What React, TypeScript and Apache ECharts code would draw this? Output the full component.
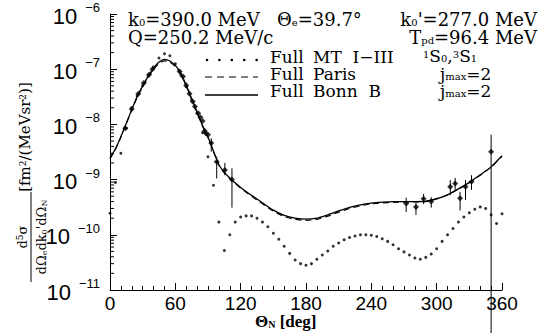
import React, { useEffect, useRef } from "react";
import * as echarts from "echarts";

// ---------- data ----------
const thetaTicks = [0, 60, 120, 180, 240, 300, 360];
const yDecades = [1e-11, 1e-10, 1e-9, 1e-8, 1e-7];
const minorMantissas = [2, 3, 4, 5, 6, 7, 8, 9];

// Full MT I-III (dotted)
const dotAngles = [
  0, 5, 10, 15, 20, 25, 30, 35, 40, 45, 50, 55, 60, 65, 70, 75, 80, 85, 90, 95,
  100, 105, 110, 115, 120, 125, 130, 135, 140, 145, 150, 155, 160, 165, 170, 175,
  180, 185, 190, 195, 200, 205, 210, 215, 220, 225, 230, 235, 240, 245, 250, 255,
  260, 265, 270, 275, 280, 285, 290, 295, 300, 305, 310, 315, 320, 325, 330, 335,
  340, 345, 350, 355, 360,
];
const dotValues = [
  2.45e-10, 8.9e-10, 3.0e-9, 8.5e-9, 2.0e-8, 3.3e-8, 5.0e-8, 7.6e-8, 1.1e-7, 1.6e-7,
  1.9e-7, 1.75e-7, 1.25e-7, 7.9e-8, 4.8e-8, 2.8e-8, 1.6e-8, 7.1e-9, 2.6e-9, 7.9e-10,
  1.7e-10, 5.2e-11, 1.0e-10, 1.7e-10, 2.1e-10, 2.2e-10, 2.2e-10, 2.0e-10, 1.7e-10, 1.4e-10,
  1.07e-10, 8.3e-11, 6.2e-11, 4.6e-11, 3.5e-11, 3.0e-11, 2.8e-11, 3.0e-11, 3.6e-11, 4.3e-11,
  5.1e-11, 6.2e-11, 7.1e-11, 8.1e-11, 8.9e-11, 9.5e-11, 1.0e-10, 1.0e-10, 9.8e-11, 9.3e-11,
  8.5e-11, 7.6e-11, 6.6e-11, 5.6e-11, 4.9e-11, 4.3e-11, 3.8e-11, 3.6e-11, 3.9e-11, 4.5e-11,
  5.6e-11, 7.6e-11, 1.0e-10, 1.3e-10, 1.7e-10, 2.1e-10, 2.5e-10, 2.9e-10, 3.2e-10, 3.0e-10,
  2.3e-10, 1.6e-10, 2.4e-10,
];

// Full Paris (dashed) and Full Bonn B (solid)
const curveAngles = [
  0, 5, 10, 15, 20, 25, 30, 35, 40, 45, 50, 55, 60, 65, 70, 75, 80, 85, 90, 95, 100,
  105, 110, 120, 130, 140, 150, 160, 170, 180, 190, 200, 210, 220, 230, 240, 250, 260,
  270, 280, 290, 300, 310, 320, 330, 340, 350, 360,
];
const bonnValues = [
  2.45e-9, 3.6e-9, 6.0e-9, 1.05e-8, 1.86e-8, 3.2e-8, 5.0e-8, 7.4e-8, 1.05e-7, 1.35e-7,
  1.51e-7, 1.41e-7, 1.17e-7, 8.5e-8, 5.1e-8, 2.9e-8, 1.66e-8, 9.5e-9, 5.9e-9, 3.3e-9,
  1.86e-9, 1.35e-9, 1.07e-9, 7.2e-10, 5.2e-10, 3.8e-10, 2.8e-10, 2.25e-10, 2.0e-10, 1.92e-10,
  2.0e-10, 2.3e-10, 2.7e-10, 3.15e-10, 3.5e-10, 3.75e-10, 3.9e-10, 4.0e-10, 4.0e-10, 4.0e-10,
  4.05e-10, 4.5e-10, 5.3e-10, 6.8e-10, 8.9e-10, 1.22e-9, 1.7e-9, 2.7e-9,
];
const parisValues = [
  2.4e-9, 3.55e-9, 5.9e-9, 1.03e-8, 1.83e-8, 3.1e-8, 4.8e-8, 7.1e-8, 9.9e-8, 1.27e-7,
  1.42e-7, 1.34e-7, 1.12e-7, 8.2e-8, 5.0e-8, 2.85e-8, 1.63e-8, 9.3e-9, 5.8e-9, 3.25e-9,
  1.82e-9, 1.32e-9, 1.04e-9, 7.0e-10, 5.0e-10, 3.65e-10, 2.68e-10, 2.14e-10, 1.9e-10, 1.83e-10,
  1.9e-10, 2.18e-10, 2.58e-10, 3.0e-10, 3.36e-10, 3.62e-10, 3.78e-10, 3.88e-10, 3.92e-10, 3.95e-10,
  4.0e-10, 4.45e-10, 5.25e-10, 6.7e-10, 8.8e-10, 1.2e-9, 1.68e-9, 2.65e-9,
];

// experimental points
const expAngles = [
  14, 20, 26, 31, 36, 39, 64, 67, 70, 73, 76, 78, 81, 83, 85, 87, 88, 90, 93, 98, 105.5,
  112, 272, 281, 288, 295, 312.5, 317, 321.5, 326.5, 332, 350,
];
const expValues = [
  8.5e-9, 1.9e-8, 3.6e-8, 5.6e-8, 8.0e-8, 1.0e-7, 9.1e-8, 7.4e-8, 5.1e-8, 3.6e-8, 2.6e-8,
  2.1e-8, 1.6e-8, 1.35e-8, 1.15e-8, 7.6e-9, 6.9e-9, 6.5e-9, 4.6e-9, 2.1e-9, 1.5e-9, 1.0e-9,
  3.7e-10, 3.2e-10, 4.5e-10, 4.0e-10, 7.4e-10, 8.5e-10, 4.6e-10, 7.4e-10, 9.1e-10, 3.2e-9,
];
const expLow: (number | null)[] = [
  null, null, null, null, null, null, null, null, null, null, null, null, null, null, null,
  null, null, null, 3.2e-9, 1.05e-9, 1.2e-9, 3.1e-10, 2.6e-10, 2.3e-10, 3.6e-10, 3.1e-10,
  5.2e-10, 6.5e-10, 2.75e-10, 4.3e-10, 6.5e-10, 1.5e-12,
];
const expHigh: (number | null)[] = [
  null, null, null, null, null, null, null, null, null, null, null, null, null, null, null,
  null, null, null, 5.6e-9, 2.6e-9, 2.0e-9, 1.6e-9, 4.7e-10, 3.8e-10, 5.5e-10, 4.8e-10,
  9.8e-10, 1.07e-9, 6.0e-10, 9.8e-10, 1.2e-9, 6.5e-9,
];

// ---------- chart ----------
const SERIF = '"DejaVu Serif"';
const RICH: any = {
  t: { fontFamily: SERIF, fontSize: 18, lineHeight: 16, fill: "#000" },
  sb: { fontFamily: SERIF, fontSize: 10, lineHeight: 1, verticalAlign: "bottom", fill: "#000" },
  sp: { fontFamily: SERIF, fontSize: 10, lineHeight: 3, verticalAlign: "top", fill: "#000" },
};
const RICH_L: any = {
  t: { fontFamily: SERIF, fontSize: 17, lineHeight: 14, fill: "#000" },
  sb: { fontFamily: SERIF, fontSize: 10, lineHeight: 1, verticalAlign: "bottom", fill: "#000" },
  sp: { fontFamily: SERIF, fontSize: 10, lineHeight: 3, verticalAlign: "top", fill: "#000" },
};
const RICH_Y: any = {
  t: { fontFamily: SERIF, fontSize: 13, lineHeight: 14, fill: "#000" },
  b: { fontFamily: SERIF, fontSize: 15, lineHeight: 14, fill: "#000" },
  sb: { fontFamily: SERIF, fontSize: 8, lineHeight: 2, verticalAlign: "bottom", fill: "#000" },
  sp: { fontFamily: SERIF, fontSize: 9, lineHeight: 3, verticalAlign: "top", fill: "#000" },
};
const RICH_X: any = {
  t: { fontFamily: '"Liberation Serif"', fontSize: 17, fontWeight: "bold", lineHeight: 16, fill: "#000" },
  sb: {
    fontFamily: '"Liberation Serif"',
    fontSize: 10,
    fontWeight: "bold",
    lineHeight: 2,
    verticalAlign: "bottom",
    fill: "#000",
  },
};

function txt(x: number, y: number, text: string, align = "left", rich = RICH, vAlign = "middle") {
  return {
    type: "text",
    x,
    y,
    style: {
      legacy: false,
      text,
      rich,
      fill: "#000",
      font: '18px "DejaVu Serif"',
      align,
      verticalAlign: vAlign,
    },
  };
}

function buildOption(): any {
  const minorTicks = yDecades.flatMap((d) => minorMantissas.map((m) => m * d));
  const errData = expAngles
    .map((a, i) => [a, expLow[i], expHigh[i]])
    .filter((r) => r[1] !== null);

  return {
    animation: false,
    backgroundColor: "#fff",
    grid: { left: 110, right: 41, top: 14, bottom: 43, containLabel: false },
    xAxis: {
      type: "value",
      min: thetaTicks[0],
      max: thetaTicks[thetaTicks.length - 1],
      interval: 60,
      axisLine: { show: true, lineStyle: { color: "#000", width: 1 } },
      axisTick: { show: true, inside: true, length: 7, lineStyle: { color: "#000" } },
      minorTick: { show: true, splitNumber: 6, length: 4, lineStyle: { color: "#000" } },
      splitLine: { show: false },
      minorSplitLine: { show: false },
      axisLabel: {
        color: "#000",
        fontFamily: "Liberation Sans",
        fontSize: 19,
        margin: 4,
      },
    },
    yAxis: {
      type: "log",
      logBase: 10,
      min: 1e-11,
      max: 1e-6,
      axisLine: { show: true, lineStyle: { color: "#000", width: 1 } },
      axisTick: { show: true, inside: true, length: 7, lineStyle: { color: "#000" } },
      splitLine: { show: false },
      axisLabel: {
        margin: 10,
        formatter: (v: number) => "{b|10}{s|−" + Math.round(-Math.log10(v)) + "}",
        rich: {
          b: { fontFamily: "Liberation Sans", fontSize: 22, lineHeight: 26, color: "#000", padding: [4, 0, 0, 0] },
          s: {
            fontFamily: "Liberation Sans",
            fontSize: 13,
            lineHeight: 11,
            verticalAlign: "top",
            padding: [0, 0, 0, 8],
            color: "#000",
          },
        },
      },
    },
    series: [
      {
        type: "line",
        name: "Full Paris",
        data: curveAngles.map((a, i) => [a, parisValues[i]]),
        showSymbol: false,
        smooth: 0.2,
        lineStyle: { color: "#000", width: 1.2, type: [6, 4] },
        z: 2,
      },
      {
        type: "line",
        name: "Full Bonn B",
        data: curveAngles.map((a, i) => [a, bonnValues[i]]),
        showSymbol: false,
        smooth: 0.2,
        lineStyle: { color: "#000", width: 1.3 },
        z: 3,
      },
      {
        type: "scatter",
        name: "Full MT I-III",
        data: dotAngles.map((a, i) => [a, dotValues[i]]),
        symbol: "circle",
        symbolSize: 3,
        itemStyle: { color: "#000" },
        z: 4,
      },
      {
        type: "custom",
        name: "errors",
        data: errData,
        clip: false,
        z: 5,
        renderItem: (_p: any, api: any) => {
          const a = api.value(0);
          const p1 = api.coord([a, api.value(1)]);
          const p2 = api.coord([a, api.value(2)]);
          return {
            type: "line",
            shape: { x1: p1[0], y1: p1[1], x2: p2[0], y2: p2[1] },
            style: { stroke: "#000", lineWidth: 1 },
          };
        },
      },
      {
        type: "scatter",
        name: "data",
        data: expAngles.map((a, i) => [a, expValues[i]]),
        symbol: "diamond",
        symbolSize: 6,
        itemStyle: { color: "#000" },
        z: 6,
      },
      {
        type: "custom",
        name: "minor",
        silent: true,
        clip: false,
        data: minorTicks.map((v) => [thetaTicks[0], v]),
        renderItem: (_p: any, api: any) => {
          const p = api.coord([api.value(0), api.value(1)]);
          return {
            type: "line",
            shape: { x1: p[0], y1: p[1], x2: p[0] + 4, y2: p[1] },
            style: { stroke: "#000", lineWidth: 1 },
          };
        },
      },
    ],
    graphic: [
      // header
      txt(128, 19, "{t|k}{sb|0}{t|=390.0 MeV}"),
      txt(277, 19, "{t|Θ}{sb|e}{t|=39.7°}"),
      txt(537, 19, "{t|k}{sb|0}{t|'=277.0 MeV}", "right"),
      txt(128, 37, "{t|Q=250.2 MeV/c}"),
      txt(537, 37, "{t|T}{sb|pd}{t|=96.4 MeV}", "right"),
      // legend samples
      {
        type: "line",
        shape: { x1: 207, y1: 60, x2: 257, y2: 60 },
        style: { stroke: "#000", lineWidth: 2.6, lineDash: [0.01, 12.4], lineCap: "round" },
      },
      {
        type: "line",
        shape: { x1: 205, y1: 77, x2: 258, y2: 77 },
        style: { stroke: "#000", lineWidth: 1.2, lineDash: [7, 5] },
      },
      {
        type: "line",
        shape: { x1: 205, y1: 95, x2: 258, y2: 95 },
        style: { stroke: "#000", lineWidth: 1.3 },
      },
      // legend texts
      txt(270, 57, "{t|Full}", "left", RICH_L),
      txt(313, 57, "{t|MT  I−III}", "left", RICH_L),
      txt(423, 56, "{sp|1}{t|S}{sb|0}{t|,}{sp|3}{t|S}{sb|1}", "left", RICH_L),
      txt(270, 74, "{t|Full}", "left", RICH_L),
      txt(313, 74, "{t|Paris}", "left", RICH_L),
      txt(440, 74, "{t|j}{sb|max}{t|=2}", "left", RICH_L),
      txt(270, 91, "{t|Full}", "left", RICH_L),
      txt(313, 91, "{t|Bonn  B}", "left", RICH_L),
      txt(440, 91, "{t|j}{sb|max}{t|=2}", "left", RICH_L),
      // x axis title
      txt(255, 321, "{t|Θ}{sb|N}{t| [deg]}", "left", RICH_X),
      // y axis title (rotated)
      {
        type: "group",
        x: 31,
        y: 237,
        rotation: Math.PI / 2,
        children: [
          {
            type: "line",
            shape: { x1: -45, y1: 0, x2: 45, y2: 0 },
            style: { stroke: "#000", lineWidth: 1 },
          },
          txt(0, -2, "{t|d}{sp|5}{t|σ}", "center", RICH_Y, "bottom"),
          txt(0, 3, "{t|dΩ}{sb|e}{t|dk}{sb|0}{t|'dΩ}{sb|N}", "center", RICH_Y, "top"),
          txt(100, -6, "{b|[fm}{sp|2}{b|/(MeVsr}{sp|2}{b|)]}", "center", RICH_Y),
        ],
      },
    ],
  };
}

export default function App() {
  const ref = useRef<HTMLDivElement>(null);
  useEffect(() => {
    if (!ref.current) return;
    const chart = echarts.init(ref.current, undefined, { renderer: "svg" });
    chart.setOption(buildOption());
    return () => chart.dispose();
  }, []);
  return (
    <div
      ref={ref}
      style={{ position: "absolute", left: 0, top: 0, width: 543, height: 333, background: "#fff" }}
    />
  );
}
